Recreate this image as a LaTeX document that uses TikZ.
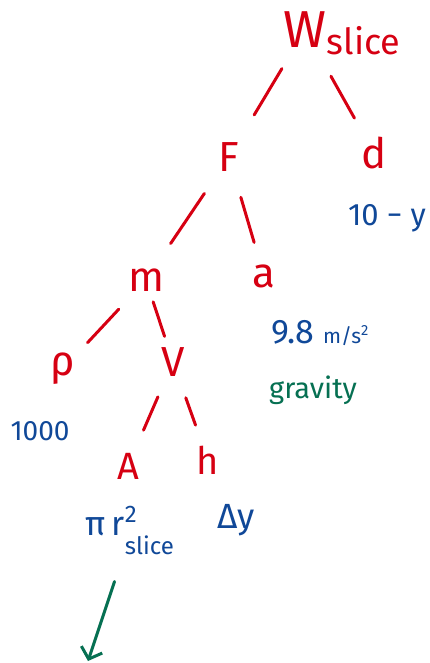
\documentclass[tikz,border=0pt]{standalone}
\usepackage{fontspec}
\setmainfont{Fira Sans}
\usepackage{xcolor}
\usetikzlibrary{arrows.meta,positioning}

\definecolor{inkred}{RGB}{214,0,18}
\definecolor{inkblue}{RGB}{16,72,152}
\definecolor{inkgreen}{RGB}{6,112,82}

\begin{document}
\begin{tikzpicture}[
		x=1pt,y=-1pt,
		every node/.style={inner sep=0pt},
		qty/.style={text=inkred,font=\fontsize{42}{50}\selectfont},
		val/.style={text=inkblue,font=\fontsize{31}{37}\selectfont,anchor=base},
		note/.style={text=inkgreen,font=\fontsize{29}{35}\selectfont,anchor=base},
		branch/.style={draw=inkred,line width=3pt,line cap=round},
		pointer/.style={draw=inkgreen,line width=3pt,line cap=round,
			-{Straight Barb[length=10pt,width=22pt]}}
		]
		
		\useasboundingbox (0,0) rectangle (430,663);
		
		\node[qty,font=\fontsize{52}{60}\selectfont]
		(w) at (305,30)
		{W};
		
		\node[qty,font=\fontsize{36}{42}\selectfont,anchor=base west]
		(wsub) at ([yshift=-7pt]w.base east)
		{slice};
		
		\node[qty]
		(f) at (229,157)
		{F};
		
		\node[qty]
		(d) at (374,153)
		{d};
		
		\node[val]
		(dval) at (387,225)
		{10 − y};
		
		\node[qty]
		(m) at (146,280)
		{m};
		
		\node[qty]
		(a) at (264,276)
		{a};
		
		\node[val,font=\fontsize{34}{40}\selectfont]
		(aval) at (320,343)
		{9.8 {\fontsize{21}{25}\selectfont m/s\textsuperscript{2}}};
		
		\node[note]
		(grav) at (313,398)
		{gravity};
		
		\node[qty]
		(rho) at (63,369)
		{ρ};
		
		\node[qty]
		(v) at (173,362)
		{V};
		
		\node[val,font=\fontsize{28}{34}\selectfont]
		(rhoval) at (40,440)
		{1000};
		
		\node[qty,font=\fontsize{38}{44}\selectfont]
		(area) at (128,466)
		{A};
		
		\node[qty,font=\fontsize{38}{44}\selectfont]
		(h) at (208,460)
		{h};
		
		\node[val,font=\fontsize{34}{40}\selectfont]
		(piarea) at (130,535)
		{π\,r\rlap{\raisebox{13pt}{\fontsize{24}{28}\selectfont 2}}\raisebox{-19pt}{\fontsize{24}{28}\selectfont slice}};
		
		\node[val,font=\fontsize{35}{41}\selectfont]
		(dy) at (236,528)
		{Δy};
		
		\coordinate (down) at (88,661);
		
		\draw[branch,shorten <=45pt,shorten >=49pt] (w.center)--(f.center);
		\draw[branch,shorten <=53pt,shorten >=40pt] (w.center)--(d.center);
		\draw[branch,shorten <=44pt,shorten >=44pt] (f.center)--(m.center);
		\draw[branch,shorten <=42pt,shorten >=35pt] (f.center)--(a.center);
		\draw[branch,shorten <=40pt,shorten >=36pt] (m.center)--(rho.center);
		\draw[branch,shorten <=23pt,shorten >=27pt] (m.center)--(v.center);
		\draw[branch,shorten <=38pt,shorten >=39pt] (v.center)--(area.center);
		\draw[branch,shorten <=38pt,shorten >=37pt] (v.center)--(h.center);
		\draw[pointer,shorten <=49pt] (piarea.base)--(down);
		
	\end{tikzpicture}
\end{document}
